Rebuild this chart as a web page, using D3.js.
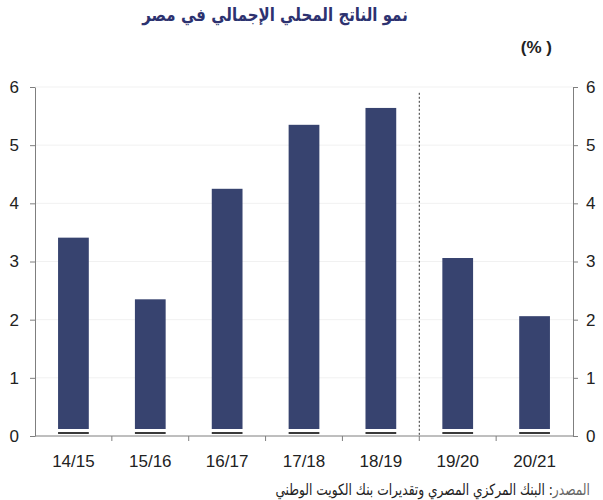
<!DOCTYPE html>
<html><head><meta charset="utf-8">
<script src="https://cdn.jsdelivr.net/npm/d3@7"></script>
<style>body{margin:0;background:#fff}svg{display:block}</style>
</head><body>
<svg id="c" width="603" height="500"></svg>
<script>
const categories = ["14/15","15/16","16/17","17/18","18/19","19/20","20/21"];
const growth = [3.41, 2.35, 4.25, 5.35, 5.64, 3.06, 2.06];
const yTicks = [0,1,2,3,4,5,6];
const titleText = "نمو الناتج المحلي الإجمالي في مصر";
const unitText = "(% )";
const sourceLabel = "المصدر";
const sourceText = ": البنك المركزي المصري وتقديرات بنك الكويت الوطني";
const forecastStart = "19/20";

const svg = d3.select("#c");
const L = 35, R = 573, T = 87, B = 436;
const x = d3.scaleBand().domain(categories).range([L, R]).paddingInner(0.6).paddingOuter(0.3);
const xb = d3.scaleBand().domain(categories).range([L, R]);
const y = d3.scaleLinear().domain([0, 6]).range([B, T]);
const axisColor = "#7f7f7f";

// gridlines
svg.append("g").selectAll("line").data(yTicks.filter(d => d > 0)).join("line")
  .attr("x1", L).attr("x2", R).attr("y1", d => y(d)).attr("y2", d => y(d))
  .attr("stroke", "#f1f1f1").attr("stroke-width", 1);

// bars
svg.append("g").selectAll("rect").data(categories).join("rect")
  .attr("x", d => x(d)).attr("width", x.bandwidth())
  .attr("y", (d, i) => y(growth[i]))
  .attr("height", (d, i) => y(0) - 7 - y(growth[i]))
  .attr("fill", "#37436f");
// dark base segments
svg.append("g").selectAll("rect").data(categories).join("rect")
  .attr("x", d => x(d)).attr("width", x.bandwidth())
  .attr("y", y(0) - 4).attr("height", 2)
  .attr("fill", "#3a3a3a");

// forecast divider
const dx = xb(forecastStart);
svg.append("line").attr("x1", dx).attr("x2", dx).attr("y1", y(5.9)).attr("y2", B)
  .attr("stroke", "#333").attr("stroke-width", 1).attr("stroke-dasharray", "2,2");

function styleAxis(g) {
  g.selectAll("path, line").attr("stroke", axisColor);
  g.selectAll("text").attr("font-family", "Liberation Sans, Arial, sans-serif")
    .attr("font-size", 17).attr("fill", "#222");
}
const yl = svg.append("g").attr("transform", `translate(${L},0)`)
  .call(d3.axisLeft(y).tickValues(yTicks).tickSize(5).tickSizeOuter(0).tickPadding(11).tickFormat(d3.format("d")));
styleAxis(yl);
const yr = svg.append("g").attr("transform", `translate(${R},0)`)
  .call(d3.axisRight(y).tickValues(yTicks).tickSize(5).tickSizeOuter(0).tickPadding(8).tickFormat(d3.format("d")));
styleAxis(yr);

// x axis with ticks on band boundaries
const xg = svg.append("g").attr("transform", `translate(0,${B})`);
xg.append("line").attr("x1", L).attr("x2", R).attr("stroke", axisColor);
xg.selectAll("line.tk").data(categories.slice(1)).join("line").attr("class", "tk")
  .attr("x1", d => xb(d)).attr("x2", d => xb(d)).attr("y1", 0).attr("y2", 5).attr("stroke", axisColor);
xg.selectAll("text").data(categories).join("text")
  .attr("x", d => xb(d) + xb.bandwidth() / 2).attr("y", 31)
  .attr("text-anchor", "middle").attr("font-family", "Liberation Sans, Arial, sans-serif")
  .attr("font-size", 17).attr("fill", "#222").text(d => d);

// title
svg.append("text").attr("transform", "translate(275,21) scale(0.835,1)").attr("text-anchor", "middle")
  .attr("direction", "rtl").attr("font-family", "DejaVu Sans, sans-serif").attr("font-weight", "bold")
  .attr("font-size", 18).attr("fill", "#2d3270").text(titleText);
svg.append("text").attr("x", 552).attr("y", 53).attr("text-anchor", "end")
  .attr("font-family", "Liberation Sans, Arial, sans-serif").attr("font-weight", "bold")
  .attr("font-size", 17).attr("fill", "#222").text(unitText);

// source
const src = svg.append("text").attr("transform", "translate(590,495) scale(0.79,1)").attr("text-anchor", "start")
  .attr("direction", "rtl").attr("font-family", "DejaVu Sans, sans-serif").attr("font-size", 15.5).attr("fill", "#222");
src.append("tspan").attr("fill", "#666").text(sourceLabel);
src.append("tspan").text(sourceText);
</script>
</body></html>
